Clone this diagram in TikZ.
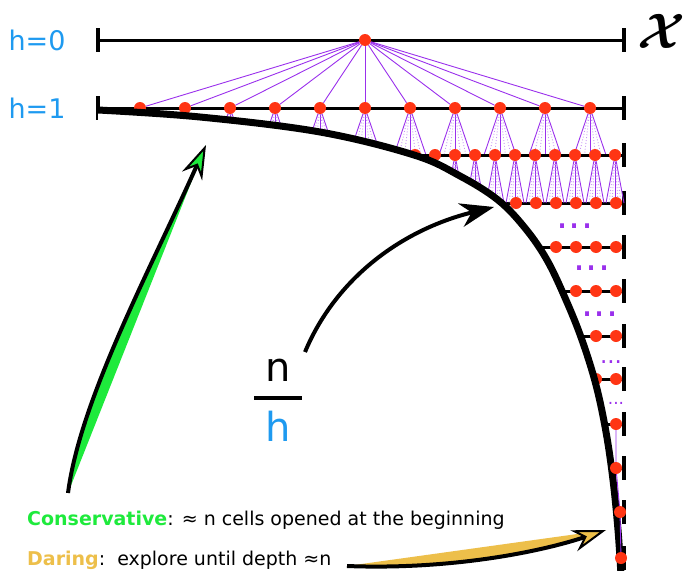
\documentclass[tikz,border=0pt]{standalone}
\usepackage{fontspec}
\setmainfont{DejaVu Sans}
\usepackage{tikz}
\usetikzlibrary{positioning, arrows.meta, calc}
\definecolor{hblue}{HTML}{1E9AF0}
\definecolor{cellred}{HTML}{FF3514}
\definecolor{tree}{HTML}{9A30EC}
\definecolor{treelight}{HTML}{C794F4}
\definecolor{cons}{HTML}{1EEA3C}
\definecolor{daring}{HTML}{EDBF4A}

\begin{document}
\begin{tikzpicture}[x=1pt, y=-1pt,
    cell/.style={circle, fill=cellred, inner sep=0pt, minimum size=12pt},
    level/.style={line width=3pt},
    tick/.style={line width=3.5pt},
    link/.style={tree, line width=0.9pt},
    faint/.style={treelight, line width=0.9pt, dotted},
    more/.style={tree, anchor=base, inner sep=0pt},
    hlabel/.style={text=hblue, font=\fontsize{27}{30}\selectfont},
    legend/.style={anchor=base west, inner sep=0pt, font=\fontsize{19}{21}\selectfont},
    bigarrow/.style={line width=4pt},
  ]
  \useasboundingbox (0,0) rectangle (690,570);
  \def\xl{98}
  \def\xr{624}
  \def\tk{12}
  \def\edge{plot[smooth, tension=0.6] coordinates {(98,110) (200,117) (320,132) (414,155)
      (460,176) (498,200) (525,228) (547,260) (566,300) (582,340) (596,385) (606,432)
      (613,480) (618,530) (621,575)}}
  \foreach \yy in {40, 108} {
    \draw[level] (\xl,\yy) -- (\xr,\yy);
    \draw[tick] (\xl,\yy-\tk) -- (\xl,\yy+\tk);
    \draw[tick] (\xr,\yy-\tk) -- (\xr,\yy+\tk);
  }
  \node[hlabel] (h0) at (37,40) {h=0};
  \node[hlabel] (h1) at (37,108) {h=1};
  \node[font=\Huge\boldmath, scale=2.0, inner sep=0pt] (xset) at (661,31) {$\mathcal{X}$};
  % first split, then every cell of h=1 split again
  \node[cell] (c0) at (365,40) {};
  \foreach \i in {1,...,11} {
    \pgfmathsetmacro{\xx}{95+45*\i}
    \node[cell] (c1-\i) at (\xx,108) {};
    \draw[link] (c0) -- (c1-\i);
    \foreach \o in {-16,0,16} \draw[link] (c1-\i) -- +(\o,47);
    \foreach \o in {-11,-5.5,5.5,11} \draw[faint] (c1-\i) -- +(\o,47);
  }
  \foreach \yy in {155,203,247,291,336,379,424,468,512,558} {
    \draw[level] (380,\yy) -- (\xr,\yy);
    \draw[tick] (\xr,\yy-\tk) -- (\xr,\yy+\tk);
  }
  \foreach \k in {1,...,11} {
    \pgfmathsetmacro{\xx}{395+20*\k}
    \node[cell] (c2-\k) at (\xx,155) {};
    \foreach \o in {-9,0,9} \draw[link] (c2-\k) -- +(\o,48);
    \foreach \o in {-6,-3,3,6} \draw[faint] (c2-\k) -- +(\o,48);
  }
  \foreach \lv/\yy/\xa/\nn in {3/203/516/6, 4/247/556/4, 5/291/576/3,
      6/336/596/2, 7/379/596/2, 8/424/616/1} {
    \foreach \k in {1,...,\nn} {
      \pgfmathsetmacro{\xx}{\xa+20*(\k-1)}
      \node[cell] (c\lv-\k) at (\xx,\yy) {};
    }
  }
  \foreach \xx/\yy/\fs [count=\m] in {575/228/38, 592/270/38, 600/316/38,
      611/363/23, 616/404/17} {
    \node[more, font=\fontsize{\fs}{\fs}\selectfont] (more-\m) at (\xx,\yy) {...};
  }
  % everything under the frontier is hidden
  \fill[white] \edge -- (98,575) -- cycle;
  \draw[line width=7pt] \edge;
  \node[cell] (c9-1) at (616,468) {};
  \node[cell] (c10-1) at (620,512) {};
  \node[cell] (c11-1) at (621,558) {};
  \draw[link] (c8-1) -- (c9-1) -- (c10-1) -- (c11-1);
  % n / h
  \node[font=\fontsize{40}{44}\selectfont] (fracn) at (278,370) {n};
  \node[font=\fontsize{40}{44}\selectfont, text=hblue] (frach) at (278,426) {h};
  \draw[line width=4pt] ($(fracn)!0.5!(frach)+(-24,0)$) -- ($(fracn)!0.5!(frach)+(24,0)$);
  \coordinate (nfoot) at (305,352);
  \coordinate (ntip) at (494,207);
  \draw[bigarrow, -{Stealth[length=34pt, width=24pt, inset=11pt]}]
    (nfoot) .. controls (335,280) and (400,230) .. (ntip);
  \coordinate (cfoot) at (68,493);
  \coordinate (ctip) at (206,145);
  \fill[cons] (cfoot) .. controls (80,400) and (150,270) .. (ctip) -- cycle;
  \draw[bigarrow, -{Stealth[length=34pt, width=22pt, inset=11pt, line width=2pt, fill=cons]}]
    (cfoot) .. controls (80,400) and (150,270) .. (ctip);
  \coordinate (dfoot) at (347,566);
  \coordinate (dtip) at (606,530);
  \fill[daring] (dfoot) .. controls (450,570) and (540,552) .. (dtip) -- cycle;
  \draw[bigarrow, -{Stealth[length=34pt, width=22pt, inset=11pt, line width=2pt, fill=daring]}]
    (dfoot) .. controls (450,570) and (540,552) .. (dtip);
  \node[legend] (conslabel) at (27,525)
    {\textcolor{cons}{\textbf{Conservative}}: ≈ n cells opened at the beginning};
  \node[legend] (darlabel) at (27,565)
    {\textcolor{daring}{\textbf{Daring}}:\ \ explore until depth ≈n};
\end{tikzpicture}
\end{document}
